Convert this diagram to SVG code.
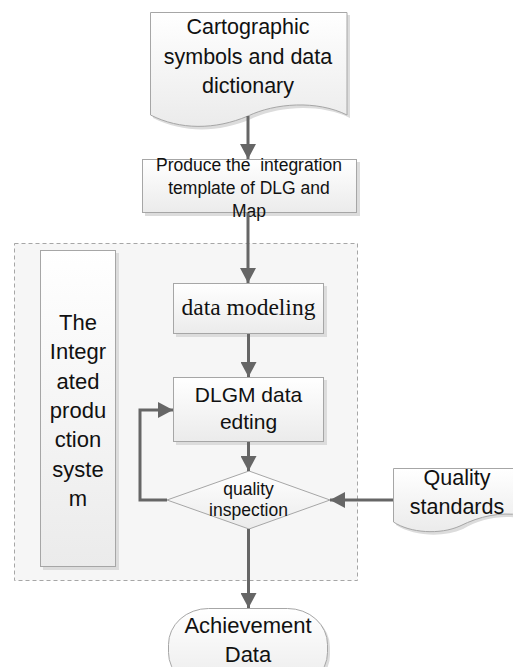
<svg xmlns="http://www.w3.org/2000/svg" width="513" height="667" viewBox="0 0 513 667">
<defs>
<linearGradient id="g" x1="0" y1="0" x2="0" y2="1">
<stop offset="0" stop-color="#ffffff"/>
<stop offset="1" stop-color="#ebebeb"/>
</linearGradient>
<marker id="ah" markerUnits="userSpaceOnUse" markerWidth="16" markerHeight="16" viewBox="0 0 16 16" refX="15" refY="8" orient="auto">
<path d="M0,0 L15,8 L0,16 Z" fill="#666666"/>
</marker>
</defs>
<style>
.sh{fill:#dcdcdc;stroke:none}
.nd{fill:url(#g);stroke:#a6a6a6;stroke-width:1}
.t{font-family:"Liberation Sans",Arial,sans-serif;fill:#111;text-anchor:middle}
.s{font-family:"Liberation Serif","Times New Roman",serif;fill:#111;text-anchor:middle}
.c{fill:none;stroke:#666666;stroke-width:3}
</style>
<rect width="513" height="667" fill="#ffffff"/>
<g id="container">
<rect x="14.5" y="243.5" width="343" height="337" fill="#f6f6f6" stroke="#a6a6a6" stroke-width="1" stroke-dasharray="4,3"/>
</g>
<g id="doc-cartographic">
<path class="sh" d="M153,15 H350 V118 C320,103 278,106 251,119 C218,133 183,133 153,118 Z"/>
<path class="nd" d="M150.5,12.5 H347 V115 C317,100 275,103 248,116 C215,130 180,130 150.5,115 Z"/>
<text class="t" font-size="21.5" x="248" y="34">Cartographic</text>
<text class="t" font-size="21.5" x="248" y="64">symbols and data</text>
<text class="t" font-size="21.5" x="248" y="93">dictionary</text>
</g>
<g id="process-template">
<rect class="sh" x="145" y="162" width="215" height="54"/>
<rect class="nd" x="142.5" y="159.5" width="214" height="53"/>
<text class="t" font-size="17.5" x="249" y="171" xml:space="preserve">Produce the  integration</text>
<text class="t" font-size="17.5" x="249" y="194">template of DLG and</text>
<text class="t" font-size="17.5" x="249" y="217">Map</text>
</g>
<g id="system">
<rect class="sh" x="43" y="253" width="76" height="317"/>
<rect class="nd" x="40.5" y="250.5" width="75" height="316"/>
<text class="t" font-size="22" x="78" y="330">The</text>
<text class="t" font-size="22" x="78" y="359">Integr</text>
<text class="t" font-size="22" x="78" y="389">ated</text>
<text class="t" font-size="22" x="78" y="418">produ</text>
<text class="t" font-size="22" x="78" y="447">ction</text>
<text class="t" font-size="22" x="78" y="477">syste</text>
<text class="t" font-size="22" x="78" y="506">m</text>
</g>
<g id="data-modeling">
<rect class="sh" x="176" y="286" width="151" height="51"/>
<rect class="nd" x="173.5" y="283.5" width="150" height="50"/>
<text class="s" font-size="23.5" x="248.5" y="315">data modeling</text>
</g>
<g id="dlgm-editing">
<rect class="sh" x="176" y="380" width="151" height="65"/>
<rect class="nd" x="173.5" y="377.5" width="150" height="64"/>
<text class="t" font-size="21" x="248.5" y="402">DLGM data</text>
<text class="t" font-size="21" x="248.5" y="429">edting</text>
</g>
<g id="quality-inspection">
<path class="nd" d="M167,500 L249,471 L330,500 L249,529 Z"/>
<text class="t" font-size="17.5" x="248.5" y="495">quality</text>
<text class="t" font-size="17.5" x="248.5" y="516">inspection</text>
</g>
<g id="doc-quality">
<path class="sh" d="M396,471 H520 V518 C500,515 480,519 463,529 C443,538 413,536 396,525 Z"/>
<path class="nd" d="M393.5,468.5 H520 V515 C500,512 480,516 460,526 C440,535 410,533 393.5,522 Z"/>
<text class="t" font-size="21.5" x="457" y="485">Quality</text>
<text class="t" font-size="21.5" x="457" y="514">standards</text>
</g>
<g id="achievement">
<rect class="sh" x="171" y="611" width="159" height="80" rx="40" ry="36"/>
<rect class="nd" x="168.5" y="608.5" width="159" height="80" rx="40" ry="36"/>
<text class="t" font-size="22" x="248" y="633">Achievement</text>
<text class="t" font-size="22" x="248" y="662">Data</text>
</g>
<g id="connectors">
<line class="c" x1="248" y1="116" x2="248" y2="159" marker-end="url(#ah)"/>
<line class="c" x1="248" y1="213" x2="248" y2="283" marker-end="url(#ah)"/>
<line class="c" x1="248.5" y1="334" x2="248.5" y2="377" marker-end="url(#ah)"/>
<line class="c" x1="248.5" y1="442" x2="248.5" y2="471" marker-end="url(#ah)"/>
<path class="c" d="M167,500 H140 V410 H173" marker-end="url(#ah)"/>
<line class="c" x1="393" y1="500" x2="330" y2="500" marker-end="url(#ah)"/>
<line class="c" x1="248.5" y1="529" x2="248.5" y2="608" marker-end="url(#ah)"/>
</g>
</svg>
